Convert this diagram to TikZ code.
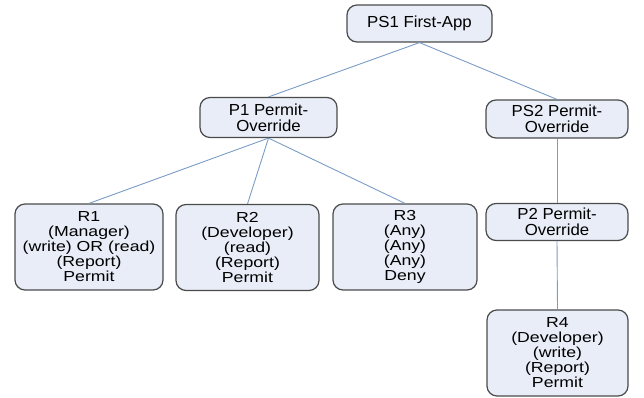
\documentclass[tikz,border=0pt]{standalone}
\usepackage{fontspec}
\setmainfont{Liberation Sans}
\newfontfamily\setfont[FakeStretch=1.05]{Liberation Sans}
\newfontfamily\rulefont[FakeStretch=1.22]{Liberation Sans}
\definecolor{boxfill}{RGB}{232,237,247}
\definecolor{boxline}{RGB}{75,75,75}
\definecolor{treeline}{RGB}{122,156,198}

\begin{document}
\begin{tikzpicture}[x=1pt,y=-1pt,
  pbox/.style={draw=boxline,fill=boxfill,line width=1.2pt,rounded corners=10pt,
    inner sep=0pt,align=center,font=\setfont\fontsize{16}{16}\selectfont},
  rbox/.style={pbox,minimum width=144pt,minimum height=86pt,
    font=\rulefont\fontsize{14.5}{15}\selectfont},
  link/.style={draw=treeline,line width=0.9pt}]
\useasboundingbox (0,0) rectangle (644,398);
\node[pbox,minimum width=145pt,minimum height=37pt] (ps1) at (419.5,23.5) {PS1 First-App};
\node[pbox,minimum width=137pt,minimum height=40pt] (p1) at (268.5,117.5) {P1 Permit-\\Override};
\node[pbox,minimum width=142pt,minimum height=38pt] (ps2) at (557,119) {PS2 Permit-\\Override};
\node[pbox,minimum width=142pt,minimum height=37pt] (p2) at (557,222) {P2 Permit-\\Override};
\node[rbox,minimum width=148pt] (r1) at (89,247) {R1\\(Manager)\\(write) OR (read)\\(Report)\\Permit};
\node[rbox,minimum width=143pt] (r2) at (247.5,247.5) {R2\\(Developer)\\(read)\\(Report)\\Permit};
\node[rbox] (r3) at (405,247) {R3\\(Any)\\(Any)\\(Any)\\Deny};
\node[rbox,minimum width=141pt] (r4) at (557.5,353) {R4\\(Developer)\\(write)\\(Report)\\Permit};
\draw[link] (ps1.south) -- (p1.north);
\draw[link] (ps1.south) -- (ps2.north);
\draw[link] (p1.south) -- (r1.north);
\draw[link] (p1.south) -- (r2.north);
\draw[link] (p1.south) -- (r3.north);
\draw[link] (ps2.south) -- (p2.north);
\draw[link] (p2.south) -- (r4.north);
\end{tikzpicture}
\end{document}
